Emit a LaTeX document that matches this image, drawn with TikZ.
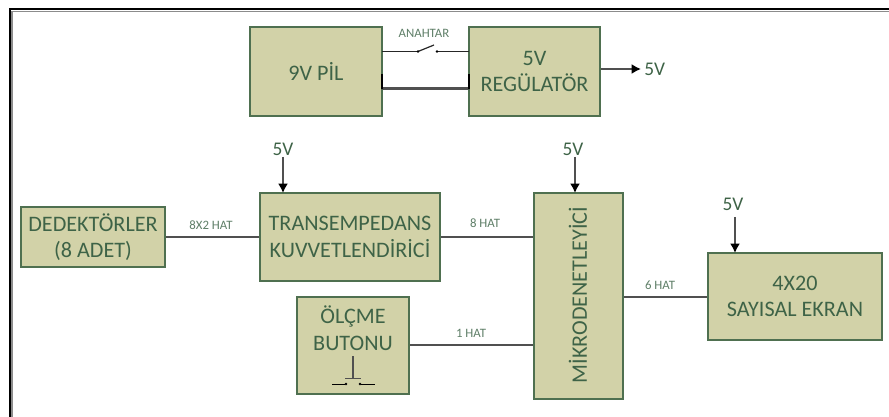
\documentclass[tikz,border=0pt]{standalone}
\usepackage{fontspec}
\setmainfont{Carlito}
\usetikzlibrary{arrows.meta}
\definecolor{boxfill}{HTML}{D2D2A8}
\definecolor{boxline}{HTML}{4F7050}
\definecolor{txt}{HTML}{3E6347}
\definecolor{smalltxt}{HTML}{5F7F68}
\definecolor{wire}{HTML}{505050}
\tikzset{x=0.75pt,y=-0.75pt,
 blk/.style={draw=boxline,fill=boxfill,line width=1.5pt,inner sep=0pt,align=center,text=txt,font=\fontsize{16.6}{20}\selectfont},
 btxt/.style={text=txt,font=\fontsize{16.6}{20}\selectfont,align=center,inner sep=0pt},
 lbl/.style={text=smalltxt,font=\fontsize{9.6}{11}\selectfont,inner sep=0pt},
 vlt/.style={text=txt,font=\fontsize{14.5}{17}\selectfont,inner sep=0pt},
 wr/.style={draw=wire,line width=1.9pt},
 thinw/.style={draw=black!85,line width=1.2pt},
 arr/.style={draw=wire,line width=1.6pt,-{Latex[length=7pt,width=7.5pt,black]}}}
\begin{document}
\begin{tikzpicture}
\useasboundingbox (0,0) rectangle (889,417);
\fill[white] (0,0) rectangle (889,417);
% frame
\draw[black!45,line width=1pt] (12,417) -- (12,11.5) -- (889,11.5);
\draw[black,line width=1.5pt] (10,417) -- (10,9.5) -- (889,9.5);
% boxes
\node[blk,minimum width=99pt,minimum height=66.5pt] (pil) at (316,71.5) {9V PİL};
\node[blk,minimum width=98.5pt,minimum height=66.5pt] (reg) at (534.5,71.5) {5V\\REGÜLATÖR};
\node[blk,minimum width=108pt,minimum height=44.5pt] (ded) at (93,237) {DEDEKTÖRLER\\(8 ADET)};
\node[blk,minimum width=135pt,minimum height=66pt] (trn) at (350,237) {TRANSEMPEDANS\\KUVVETLENDİRİCİ};
\node[blk,minimum width=84pt,minimum height=73pt] (olc) at (353,345.5) {};
\node[blk,minimum width=67pt,minimum height=154.5pt] (mik) at (578.5,296) {};
\node[blk,minimum width=131pt,minimum height=65pt] (ekr) at (795,296.5) {4X20\\SAYISAL EKRAN};
\node[btxt] (olct) at (353,328.5) {ÖLÇME\\BUTONU};
\node[btxt,rotate=90] (mikt) at (578,295) {MİKRODENETLEYİCİ};
% switch
\coordinate (s1) at (418,51.5); \coordinate (s2) at (437,51.5);
\draw[thinw] (382,51.5) -- (s1);
\draw[thinw] (s2) -- (469,51.5);
\draw[black!85,line width=0.9pt] (s1) -- (434,45);
\fill[black] (s1) circle (1.1pt) (s2) circle (1.1pt);
\node[lbl,font=\fontsize{9.6}{11}\selectfont] (anh) at (424,33) {ANAHTAR};
% return
\draw[wr] (382,88.5) -- (469,88.5);
\draw[black,line width=1.3pt] (382,74) -- (382,89);
\draw[black,line width=1.3pt] (469,74) -- (469,89);
% outputs
\coordinate (ov) at (641,69);
\draw[arr] (reg.east |- ov) -- (ov);
\node[vlt,anchor=west] (v0) at (644,69) {5V};
\node[vlt] (v1) at (283,149) {5V};
\coordinate (v1b) at (283,193);
\draw[arr] (v1.south |- 0,157) -- (v1b);
\node[vlt] (v2) at (573,149) {5V};
\draw[arr] (575,157) -- (575,193);
\node[vlt] (v3) at (733,204) {5V};
\draw[arr] (735,217) -- (735,253);
% wires
\draw[wr] (ded.east |- 0,237) -- (trn.west |- 0,237);
\draw[wr] (trn.east |- 0,237) -- (mik.west |- 0,237);
\draw[wr] (olc.east |- 0,345) -- (mik.west |- 0,345);
\draw[wr] (mik.east |- 0,297) -- (ekr.west |- 0,297);
\node[lbl] (l1) at (211,225) {8X2 HAT};
\node[lbl] (l2) at (485,223) {8 HAT};
\node[lbl] (l3) at (471,333) {1 HAT};
\node[lbl] (l4) at (660,285) {6 HAT};
% button
\draw[wire,line width=1pt] (353,356) -- (353,378);
\draw[wire,line width=1pt] (345,378.5) -- (361,378.5);
\draw[black,line width=0.7pt] (332,384) -- (345,384);
\draw[black,line width=0.7pt] (361,384) -- (375,384);
\fill[black] (346,384) circle (1pt) (360,384) circle (1pt);
\end{tikzpicture}
\end{document}
